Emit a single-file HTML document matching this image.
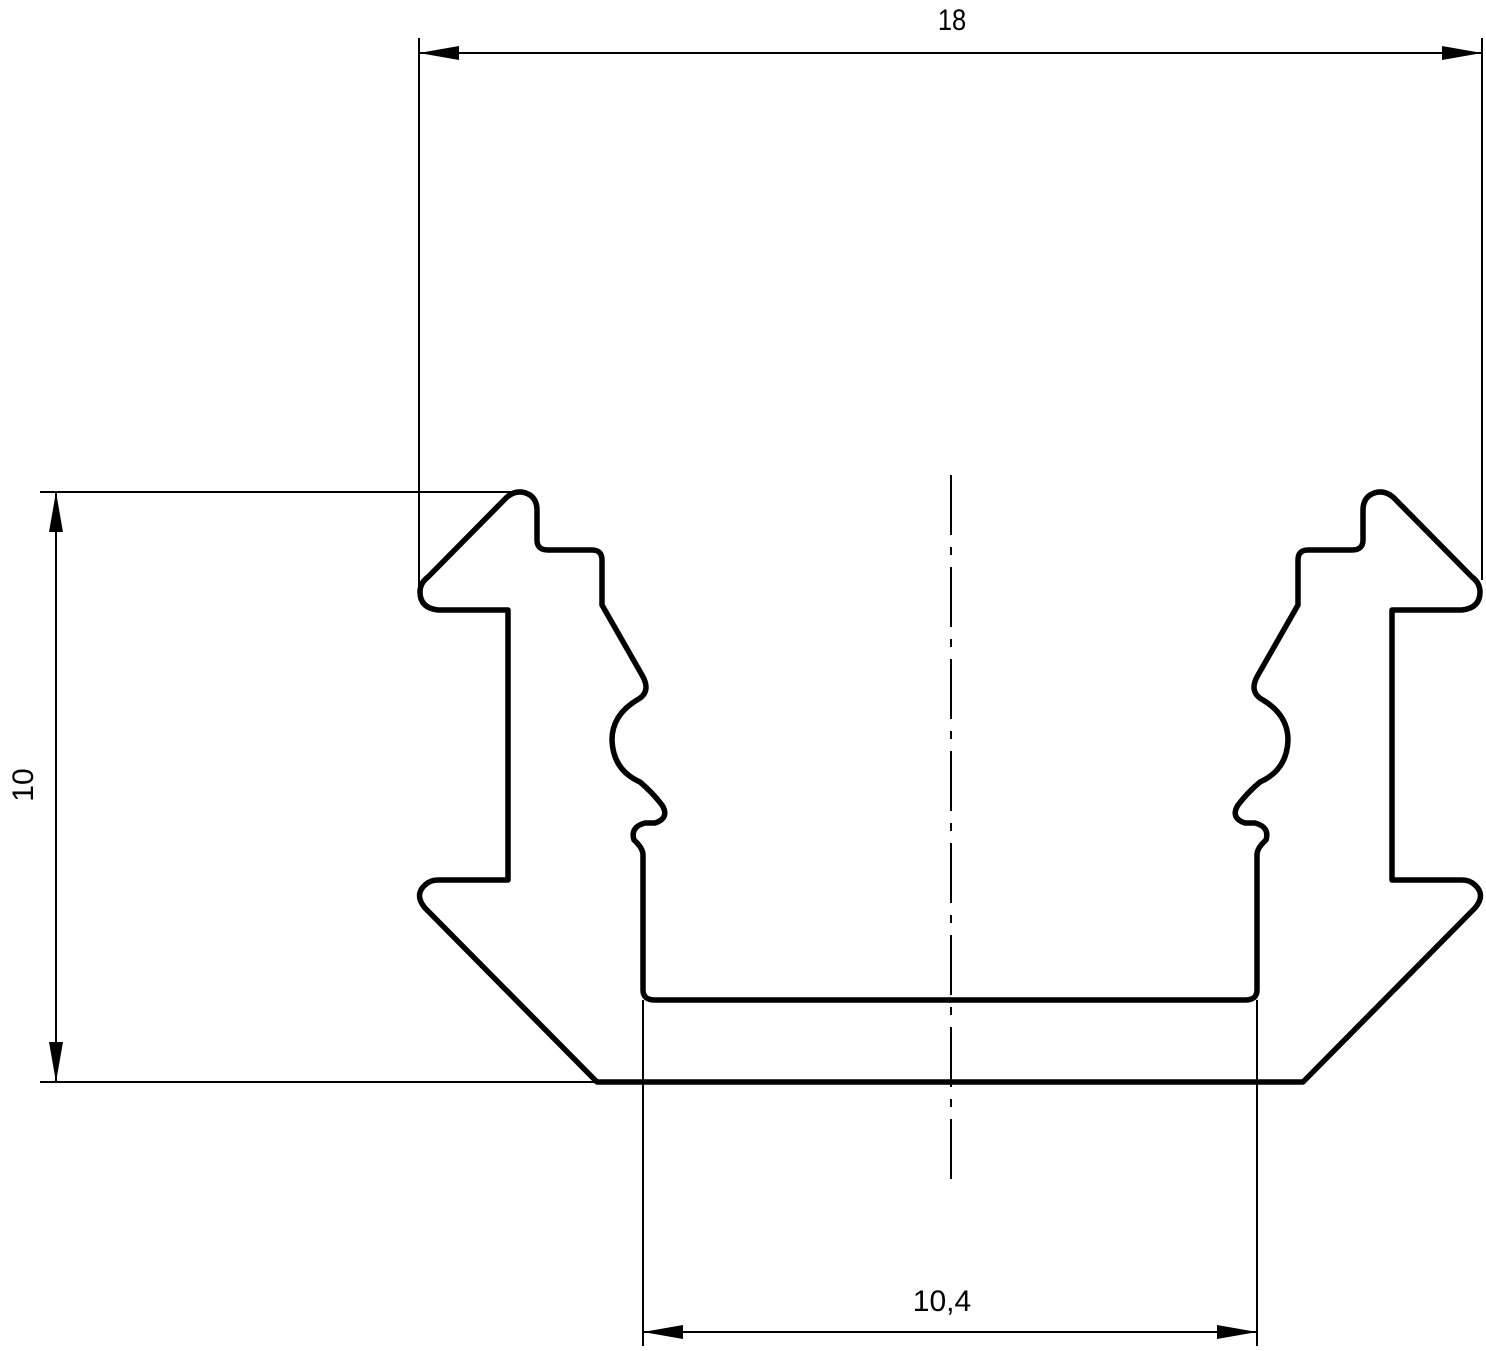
<!DOCTYPE html>
<html><head><meta charset="utf-8"><style>
html,body{margin:0;padding:0;background:#fff;}
svg{display:block;}
text{font-family:"Liberation Sans",sans-serif;font-size:30px;fill:#000;}
</style></head><body>
<svg width="1486" height="1351" viewBox="0 0 1486 1351" xmlns="http://www.w3.org/2000/svg">
<defs>
<path id="half" d="M951,1082 L597,1082 L425,908 Q414,895 425,885 Q430,880 438,880 L508,880 L508,610 L438,610 Q420,608 420,592 Q420,583 428,577 L507,497 Q518,488 530,495 Q537,500 537,510 L537,540 Q537,550 548,550 L592,550 Q602,550 602,560 L602,605 L642,675 Q652,692 637,700 Q612,715 612,740 Q613,770 640,782 Q652,792 662,805 Q670,818 655,823 L645,823 Q630,827 634,840 Q643,848 643,855 L643,990 Q643,1000 655,1000 L951,1000" fill="none" stroke="#000" stroke-width="5.5" stroke-linejoin="round"/>
</defs>
<use href="#half"/>
<use href="#half" transform="translate(1900,0) scale(-1,1)"/>
<g stroke="#000" stroke-width="2" fill="none">
<!-- top dimension -->
<line x1="419" y1="38" x2="419" y2="592"/>
<line x1="1482" y1="38" x2="1482" y2="580"/>
<line x1="419" y1="53" x2="1482" y2="53"/>
<!-- left dimension -->
<line x1="40" y1="492" x2="515" y2="492"/>
<line x1="40" y1="1082" x2="597" y2="1082"/>
<line x1="56" y1="492" x2="56" y2="1082"/>
<!-- bottom dimension -->
<line x1="643" y1="1000" x2="643" y2="1346"/>
<line x1="1257" y1="1000" x2="1257" y2="1346"/>
<line x1="643" y1="1332" x2="1257" y2="1332"/>
<!-- center line -->
<line x1="951" y1="475" x2="951" y2="1190" stroke-dasharray="60,12,8,12"/>
</g>
<g fill="#000">
<polygon points="419,53 459,46 459,60"/>
<polygon points="1482,53 1442,46 1442,60"/>
<polygon points="56,492 49,532 63,532"/>
<polygon points="56,1082 49,1042 63,1042"/>
<polygon points="643,1332 683,1325 683,1339"/>
<polygon points="1257,1332 1217,1325 1217,1339"/>
</g>
<text x="952" y="30" text-anchor="middle" transform="scale(0.85,1) translate(168,0)">18</text>
<text x="942" y="1311" text-anchor="middle">10,4</text>
<text transform="translate(33,785) rotate(-90)" text-anchor="middle">10</text>
</svg>
</body></html>
